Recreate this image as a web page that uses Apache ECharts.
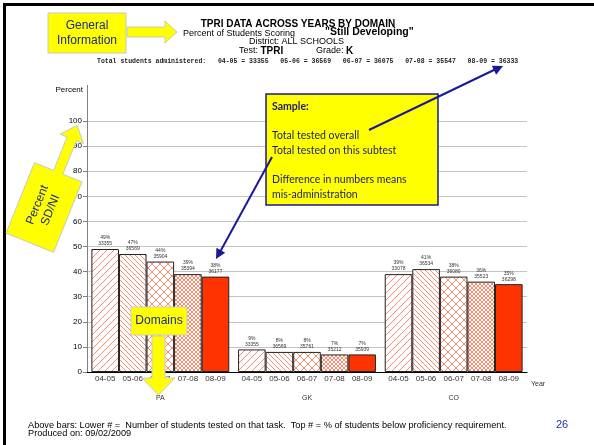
<!DOCTYPE html>
<html>
<head>
<meta charset="utf-8">
<script src="https://cdn.jsdelivr.net/npm/echarts@6/dist/echarts.min.js"></script>
<style>
html, body { margin: 0; padding: 0; background: #fff; }
#chart { width: 594px; height: 445px; }
</style>
</head>
<body>
<div id="chart"></div>
<script>
// ---- data ----
const domains = ['PA', 'GK', 'CO'];
const years = ['04-05', '05-06', '06-07', '07-08', '08-09'];
// % of students below requirement, per year, in domain order (PA, GK, CO)
const pct0405 = [49, 9, 39];
const pct0506 = [47, 8, 41];
const pct0607 = [44, 8, 38];
const pct0708 = [39, 7, 36];
const pct0809 = [38, 7, 35];
// students tested on that task
const n0405 = [33355, 33355, 33078];
const n0506 = [36569, 36569, 36534];
const n0607 = [35904, 35761, 36080];
const n0708 = [35394, 35212, 35523];
const n0809 = [36177, 35939, 36298];
// total students administered per year
const totalAdministered = [33355, 36569, 36075, 35547, 36333];
const yTicks = [0, 10, 20, 30, 40, 50, 60, 70, 80, 90, 100];

const pctByYear = [pct0405, pct0506, pct0607, pct0708, pct0809];
const nByYear = [n0405, n0506, n0607, n0708, n0809];

// ---- fill patterns ----
const hatchColor = '#ff8a70';
function pattern(size, draw) {
  const c = document.createElement('canvas');
  c.width = size; c.height = size;
  const ctx = c.getContext('2d');
  ctx.fillStyle = '#fff';
  ctx.fillRect(0, 0, size, size);
  ctx.strokeStyle = hatchColor;
  ctx.lineWidth = 1;
  draw(ctx, size);
  return { image: c, repeat: 'repeat' };
}
function slash(ctx, s) {
  ctx.beginPath();
  ctx.moveTo(0, s); ctx.lineTo(s, 0);
  ctx.moveTo(-1, 1); ctx.lineTo(1, -1);
  ctx.moveTo(s - 1, s + 1); ctx.lineTo(s + 1, s - 1);
  ctx.stroke();
}
function backslash(ctx, s) {
  ctx.beginPath();
  ctx.moveTo(0, 0); ctx.lineTo(s, s);
  ctx.moveTo(-1, s - 1); ctx.lineTo(1, s + 1);
  ctx.moveTo(s - 1, -1); ctx.lineTo(s + 1, 1);
  ctx.stroke();
}
const fills = [
  pattern(7, slash),
  pattern(5, backslash),
  pattern(8, (ctx, s) => { slash(ctx, s); backslash(ctx, s); }),
  pattern(4, (ctx, s) => { slash(ctx, s); backslash(ctx, s); }),
  '#ff3300'
];

// ---- series ----
const series = [];
years.forEach((yr, i) => {
  series.push({
    type: 'bar',
    name: yr,
    stack: 'y' + i,
    barGap: '0%',
    barCategoryGap: '6%',
    data: pctByYear[i],
    itemStyle: { color: fills[i], borderColor: '#222', borderWidth: 1 },
    label: {
      show: true,
      position: 'insideBottom',
      offset: [0, 16],
      formatter: yr,
      fontFamily: 'Liberation Sans',
      fontSize: 8,
      color: '#333'
    }
  });
  // zero-height bar on top of each bar, carries the "pct / tested" label
  series.push({
    type: 'bar',
    name: yr + ' label',
    stack: 'y' + i,
    data: domains.map(() => 0),
    itemStyle: { color: 'transparent' },
    label: {
      show: true,
      position: 'top',
      distance: 2,
      formatter: p => pctByYear[i][p.dataIndex] + '%\n' + nByYear[i][p.dataIndex],
      fontFamily: 'Liberation Sans',
      fontSize: 5,
      lineHeight: 6,
      color: '#333'
    }
  });
});

// ---- annotation shapes ----
const yellow = '#ffff00';
const navy = '#1c2a8c';
const Z = 100;

function arrowHead(x1, y1, x2, y2, len, half) {
  const dx = x2 - x1, dy = y2 - y1;
  const d = Math.sqrt(dx * dx + dy * dy);
  const ux = dx / d, uy = dy / d;
  const bx = x2 - ux * len, by = y2 - uy * len;
  return [[x2, y2], [bx - uy * half, by + ux * half], [bx + uy * half, by - ux * half]];
}

// rotated "Percent SD/NI" callout: local (u along text, v across)
const cx = 44, cy = 207.5, ang = 68 * Math.PI / 180;
const ux = Math.cos(ang), uy = -Math.sin(ang), vx = Math.sin(ang), vy = Math.cos(ang);
const sdniLocal = [[-38, -25.6], [38, -25.6], [38, -5], [74, -5], [74, -12.5], [88.6, 0],
  [74, 12.5], [74, 5], [38, 5], [38, 25.6], [-38, 25.6]];
const sdniPts = sdniLocal.map(([u, v]) => [cx + u * ux + v * vx, cy + u * uy + v * vy]);

const annFont = '10.5px Lato';
const graphic = [
  // page frame
  { type: 'line', z: Z, shape: { x1: 3, y1: 4.5, x2: 594, y2: 4.5 }, style: { stroke: '#000', lineWidth: 3 } },
  { type: 'line', z: Z, shape: { x1: 4.5, y1: 3, x2: 4.5, y2: 445 }, style: { stroke: '#000', lineWidth: 3 } },
  // y axis above 100
  { type: 'line', z: Z, shape: { x1: 87.5, y1: 85, x2: 87.5, y2: 121 }, style: { stroke: '#808080', lineWidth: 1 } },

  // titles
  { type: 'text', z: Z, style: { x: 298, y: 24, text: 'TPRI DATA ACROSS YEARS BY DOMAIN', font: 'bold 10px "Liberation Sans"', fill: '#000', textAlign: 'center', textVerticalAlign: 'middle' } },
  { type: 'text', z: Z, style: { x: 183, y: 34, text: 'Percent of Students Scoring', font: '9px "Liberation Sans"', fill: '#000', textVerticalAlign: 'middle' } },
  { type: 'text', z: Z, style: { x: 325, y: 32, text: '"Still Developing"', font: 'bold 10.5px "Liberation Sans"', fill: '#000', textVerticalAlign: 'middle' } },
  { type: 'text', z: Z, style: { x: 249, y: 42, text: 'District: ALL SCHOOLS', font: '9px "Liberation Sans"', fill: '#000', textVerticalAlign: 'middle' } },
  { type: 'text', z: Z, style: { x: 239, y: 51, text: '{a|Test: }{b|TPRI}', textVerticalAlign: 'middle',
      rich: { a: { font: '9px "Liberation Sans"', fill: '#000' }, b: { font: 'bold 10px "Liberation Sans"', fill: '#000' } } } },
  { type: 'text', z: Z, style: { x: 316, y: 51, text: '{a|Grade: }{b|K}', textVerticalAlign: 'middle',
      rich: { a: { font: '9px "Liberation Sans"', fill: '#000' }, b: { font: 'bold 10px "Liberation Sans"', fill: '#000' } } } },
  { type: 'text', z: Z, style: { x: 97, y: 61,
      text: 'Total students administered:   ' + years.map((y, i) => y + ' = ' + totalAdministered[i]).join('   '),
      font: 'bold 6.5px "Liberation Mono"', fill: '#222', textVerticalAlign: 'middle' } },

  // General Information callout
  { type: 'rect', z: Z, shape: { x: 48, y: 13, width: 78, height: 40 }, style: { fill: yellow, stroke: '#c8c8c8', lineWidth: 1 } },
  { type: 'polygon', z: Z, shape: { points: [[127, 27], [165, 27], [165, 21], [177, 32], [165, 43], [165, 37], [127, 37]] }, style: { fill: yellow, stroke: '#c8c8c8', lineWidth: 1 } },
  { type: 'text', z: Z + 1, style: { x: 87, y: 26, text: 'General', font: '12px "Liberation Sans"', fill: navy, textAlign: 'center', textVerticalAlign: 'middle' } },
  { type: 'text', z: Z + 1, style: { x: 87, y: 41, text: 'Information', font: '12px "Liberation Sans"', fill: navy, textAlign: 'center', textVerticalAlign: 'middle' } },

  // Percent SD/NI callout
  { type: 'polygon', z: Z, shape: { points: sdniPts }, style: { fill: yellow, stroke: '#c8c8c8', lineWidth: 1 } },
  { type: 'text', z: Z + 1, x: cx, y: cy, rotation: ang, style: { x: 0, y: 0, text: 'Percent\nSD/NI', font: '12px "Liberation Sans"', lineHeight: 14, fill: navy, textAlign: 'center', textVerticalAlign: 'middle' } },

  // Domains callout
  { type: 'rect', z: Z, shape: { x: 131, y: 307, width: 56, height: 28 }, style: { fill: yellow, stroke: '#c8c8c8', lineWidth: 1 } },
  { type: 'polygon', z: Z, shape: { points: [[152, 336], [165, 336], [165, 378], [175, 378], [158.5, 395], [142, 378], [152, 378]] }, style: { fill: yellow, stroke: '#c8c8c8', lineWidth: 1 } },
  { type: 'text', z: Z + 1, style: { x: 159, y: 321, text: 'Domains', font: '12px "Liberation Sans"', fill: navy, textAlign: 'center', textVerticalAlign: 'middle' } },

  // Sample box
  { type: 'rect', z: Z, shape: { x: 266, y: 94, width: 172, height: 111 }, style: { fill: yellow, stroke: '#1a1a8c', lineWidth: 1.5 } },
  { type: 'text', z: Z + 1, style: { x: 272, y: 107, text: 'Sample:', font: 'bold ' + annFont, fill: '#1c1c70', textVerticalAlign: 'middle' } },
  { type: 'text', z: Z + 1, style: { x: 272, y: 136, text: 'Total tested overall', font: annFont, fill: '#1c1c70', textVerticalAlign: 'middle' } },
  { type: 'text', z: Z + 1, style: { x: 272, y: 151, text: 'Total tested on this subtest', font: annFont, fill: '#1c1c70', textVerticalAlign: 'middle' } },
  { type: 'text', z: Z + 1, style: { x: 272, y: 180, text: 'Difference in numbers means', font: annFont, fill: '#1c1c70', textVerticalAlign: 'middle' } },
  { type: 'text', z: Z + 1, style: { x: 272, y: 195, text: 'mis-administration', font: annFont, fill: '#1c1c70', textVerticalAlign: 'middle' } },

  // pointer arrows
  { type: 'line', z: Z + 2, shape: { x1: 369, y1: 130, x2: 496, y2: 69 }, style: { stroke: '#1a1a99', lineWidth: 2 } },
  { type: 'polygon', z: Z + 2, shape: { points: arrowHead(369, 130, 503, 66, 10, 5) }, style: { fill: '#1a1a99' } },
  { type: 'line', z: Z + 2, shape: { x1: 272, y1: 157, x2: 220, y2: 252 }, style: { stroke: '#1a1a99', lineWidth: 2 } },
  { type: 'polygon', z: Z + 2, shape: { points: arrowHead(272, 157, 216, 259, 10, 5) }, style: { fill: '#1a1a99' } },

  // footer
  { type: 'text', z: Z, style: { x: 28, y: 425,
      text: 'Above bars: Lower # =  Number of students tested on that task.  Top # = % of students below proficiency requirement.',
      font: '9.2px "Liberation Sans"', fill: '#000', textVerticalAlign: 'middle' } },
  { type: 'text', z: Z, style: { x: 28, y: 433, text: 'Produced on: 09/02/2009', font: '9.2px "Liberation Sans"', fill: '#000', textVerticalAlign: 'middle' } },
  { type: 'text', z: Z, style: { x: 556, y: 425, text: '26', font: '11px "Liberation Sans"', fill: '#2233aa', textVerticalAlign: 'middle' } }
];

const chart = echarts.init(document.getElementById('chart'), null, { renderer: 'canvas' });
chart.setOption({
  animation: false,
  backgroundColor: '#fff',
  grid: { left: 87, right: 67, top: 121, bottom: 73 },
  xAxis: {
    type: 'category',
    data: domains,
    name: 'Year',
    nameLocation: 'end',
    nameGap: 4,
    nameTextStyle: { fontFamily: 'Liberation Sans', fontSize: 7, color: '#333', verticalAlign: 'top', padding: [9, 0, 0, 0] },
    axisLine: { lineStyle: { color: '#000', width: 1 } },
    axisTick: { show: false },
    axisLabel: { margin: 23, fontFamily: 'Liberation Sans', fontSize: 7, color: '#333' }
  },
  yAxis: {
    type: 'value',
    min: yTicks[0],
    max: yTicks[yTicks.length - 1],
    interval: 10,
    name: 'Percent',
    nameLocation: 'end',
    nameGap: 27,
    nameTextStyle: { fontFamily: 'Liberation Sans', fontSize: 8, color: '#000', align: 'right', padding: [0, 4, 0, 0] },
    axisLine: { show: true, lineStyle: { color: '#808080', width: 1 } },
    axisTick: { show: true, length: 4, lineStyle: { color: '#808080' } },
    axisLabel: { margin: 5, fontFamily: 'Liberation Sans', fontSize: 8, color: '#000' },
    splitLine: { lineStyle: { color: '#c4c4c4', width: 1 } }
  },
  series: series,
  graphic: graphic
});
</script>
</body>
</html>
